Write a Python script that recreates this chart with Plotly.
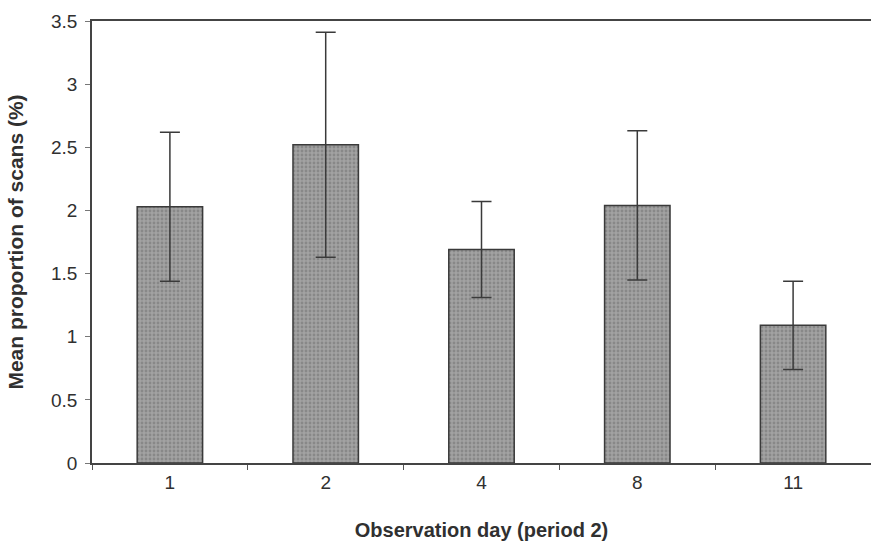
import plotly.graph_objects as go

# Observation days (period 2) and mean proportion of scans with SE
days = ["1", "2", "4", "8", "11"]
mean_pct = [2.03, 2.52, 1.69, 2.04, 1.09]
err_pct = [0.59, 0.89, 0.38, 0.59, 0.35]

y_ticks = [0, 0.5, 1, 1.5, 2, 2.5, 3, 3.5]
y_tick_text = ["0", "0.5", "1", "1.5", "2", "2.5", "3", "3.5"]

font_family = "Liberation Sans, Arial, sans-serif"
ink = "#303030"

fig = go.Figure(
    go.Bar(
        x=days,
        y=mean_pct,
        marker=dict(
            color="#9c9c9c",
            line=dict(color="#3a3a3a", width=1.5),
            pattern=dict(shape=".", fgcolor="#6e6e6e", bgcolor="#a2a2a2",
                         size=4, solidity=0.4),
        ),
        error_y=dict(type="data", array=err_pct, visible=True,
                     color="#3a3a3a", thickness=1.5, width=10),
        showlegend=False,
    )
)

fig.update_layout(
    width=871,
    height=546,
    margin=dict(l=92, r=0, t=21, b=83),
    paper_bgcolor="white",
    plot_bgcolor="white",
    bargap=0.58,
    font=dict(family=font_family, size=19, color=ink),
)

fig.update_xaxes(
    type="category",
    tickson="boundaries",
    ticks="outside",
    ticklen=5,
    tickcolor="#555555",
    showline=True,
    linecolor="#444444",
    linewidth=1.5,
    mirror=True,
    showgrid=False,
    tickfont=dict(size=19, color=ink),
    ticklabelstandoff=1,
    title=dict(text="<b>Observation day (period 2)</b>",
               font=dict(size=20, color=ink), standoff=31),
)

fig.update_yaxes(
    range=[0, 3.5],
    tickvals=y_ticks,
    ticktext=y_tick_text,
    ticks="outside",
    ticklen=5,
    tickcolor="#777777",
    showline=True,
    linecolor="#444444",
    linewidth=1.5,
    showgrid=False,
    zeroline=False,
    tickfont=dict(size=19, color=ink),
    ticklabelstandoff=4,
    title=dict(text="<b>Mean proportion of scans (%)</b>",
               font=dict(size=21, color=ink), standoff=22),
)

fig.write_html("out.html")
